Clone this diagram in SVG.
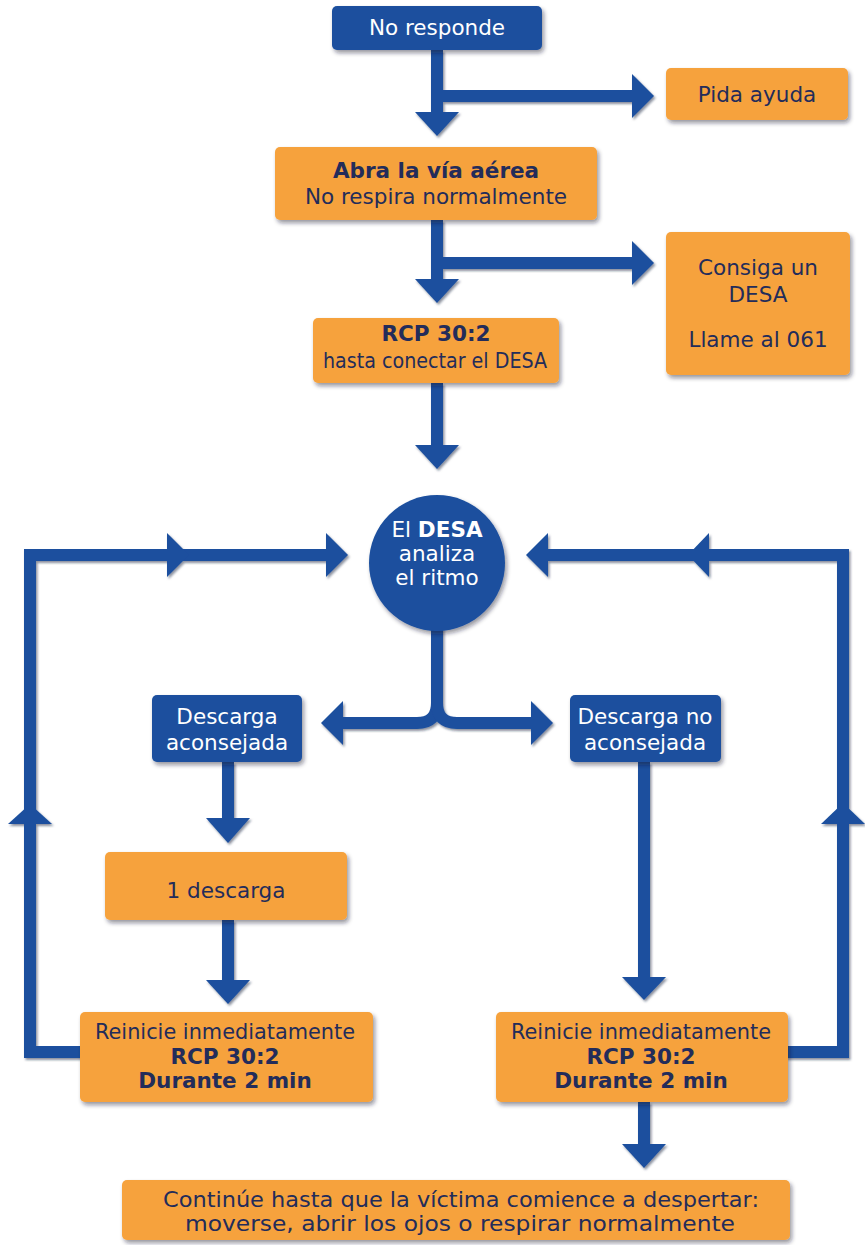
<svg xmlns="http://www.w3.org/2000/svg" width="865" height="1245" viewBox="0 0 865 1245">
  <defs>
    <filter id="shadow" x="-10%" y="-10%" width="130%" height="140%">
      <feDropShadow dx="2" dy="3" stdDeviation="2" flood-color="#1c1c2a" flood-opacity="0.45"/>
    </filter>
    <filter id="lineShadow" x="-5%" y="-5%" width="110%" height="110%">
      <feDropShadow dx="1.5" dy="2" stdDeviation="1" flood-color="#0d1c3a" flood-opacity="0.5"/>
    </filter>
  </defs>
  <style>
    .box-o { fill: #F6A23C; filter: url(#shadow); }
    .box-b { fill: #1B4F9E; filter: url(#shadow); }
    .t { font-family: "DejaVu Sans", "Noto Sans", sans-serif; font-size: 21.5px; text-anchor: middle; fill: #232C5A; }
    .tw { fill: #FFFFFF; }
    .b { font-weight: bold; }
    .ln { fill: none; stroke: #1B4F9E; stroke-width: 12; stroke-linejoin: miter; }
    .ah { fill: #1B4F9E; }
  </style>

  <rect width="865" height="1245" fill="#FFFFFF"/>

  <!-- connectors -->
  <g id="connectors" filter="url(#lineShadow)">
    <!-- No responde -> Abra la vía aérea, branch to Pida ayuda -->
    <path class="ln" d="M437 50 V114"/>
    <polygon class="ah" points="415,112 459,112 437,136"/>
    <path class="ln" d="M437 96 H634"/>
    <polygon class="ah" points="632,74 632,118 654,96"/>

    <!-- Abra -> RCP, branch to Consiga un DESA -->
    <path class="ln" d="M437 220 V281"/>
    <polygon class="ah" points="415,279 459,279 437,303"/>
    <path class="ln" d="M437 263 H634"/>
    <polygon class="ah" points="632,241 632,285 654,263"/>

    <!-- RCP -> DESA analiza -->
    <path class="ln" d="M437 383 V447"/>
    <polygon class="ah" points="415,445 459,445 437,469"/>

    <!-- fork below the analysis -->
    <path class="ln" d="M437 628 V703 Q437 723 417 723 H341"/>
    <path class="ln" d="M437 703 Q437 723 457 723 H533"/>
    <polygon class="ah" points="343,701 343,745 321,723"/>
    <polygon class="ah" points="531,701 531,745 553,723"/>

    <!-- shock branch -->
    <path class="ln" d="M228 762 V820"/>
    <polygon class="ah" points="206,818 250,818 228,843"/>
    <path class="ln" d="M228 920 V982"/>
    <polygon class="ah" points="206,980 250,980 228,1004"/>

    <!-- no-shock branch -->
    <path class="ln" d="M644 762 V979"/>
    <polygon class="ah" points="622,977 666,977 644,1000"/>
    <path class="ln" d="M644 1102 V1146"/>
    <polygon class="ah" points="622,1144 666,1144 644,1168"/>

    <!-- left return loop -->
    <path class="ln" d="M82 1052 H30 V555 H328"/>
    <polygon class="ah" points="326,533 326,577 348,555"/>
    <polygon class="ah" points="167,533 167,577 189,555"/>
    <polygon class="ah" points="8,824 52,824 30,804"/>

    <!-- right return loop -->
    <path class="ln" d="M786 1052 H843 V555 H546"/>
    <polygon class="ah" points="548,533 548,577 526,555"/>
    <polygon class="ah" points="709,533 709,577 688,555"/>
    <polygon class="ah" points="821,824 865,824 843,803"/>
  </g>

  <!-- nodes -->
  <g id="no-responde">
    <rect class="box-b" x="332" y="6" width="210" height="44" rx="5"/>
    <text class="t tw" x="437" y="35">No responde</text>
  </g>

  <g id="pida-ayuda">
    <rect class="box-o" x="666" y="68" width="182" height="52" rx="5"/>
    <text class="t" x="757" y="102">Pida ayuda</text>
  </g>

  <g id="abra-via">
    <rect class="box-o" x="275" y="147" width="322" height="73" rx="5"/>
    <text class="t b" x="436" y="178">Abra la vía aérea</text>
    <text class="t" x="436" y="204">No respira normalmente</text>
  </g>

  <g id="consiga-desa">
    <rect class="box-o" x="666" y="232" width="184" height="143" rx="5"/>
    <text class="t" x="758" y="275">Consiga un</text>
    <text class="t" x="758" y="302">DESA</text>
    <text class="t" x="758" y="347">Llame al 061</text>
  </g>

  <g id="rcp-inicial">
    <rect class="box-o" x="313" y="318" width="246" height="65" rx="5"/>
    <text class="t b" x="436" y="341">RCP 30:2</text>
    <text class="t" x="435" y="368" textLength="224" lengthAdjust="spacingAndGlyphs">hasta conectar el DESA</text>
  </g>

  <g id="desa-analiza">
    <circle cx="437" cy="563" r="68" fill="#1B4F9E" filter="url(#shadow)"/>
    <text class="t tw" x="437" y="537">El <tspan class="b">DESA</tspan></text>
    <text class="t tw" x="437" y="561">analiza</text>
    <text class="t tw" x="437" y="585">el ritmo</text>
  </g>

  <g id="descarga-aconsejada">
    <rect class="box-b" x="152" y="695" width="150" height="67" rx="5"/>
    <text class="t tw" x="227" y="724">Descarga</text>
    <text class="t tw" x="227" y="750">aconsejada</text>
  </g>

  <g id="descarga-no-aconsejada">
    <rect class="box-b" x="570" y="695" width="151" height="67" rx="5"/>
    <text class="t tw" x="645" y="724">Descarga no</text>
    <text class="t tw" x="645" y="750">aconsejada</text>
  </g>

  <g id="una-descarga">
    <rect class="box-o" x="105" y="852" width="242" height="68" rx="5"/>
    <text class="t" x="226" y="898">1 descarga</text>
  </g>

  <g id="reinicie-izq">
    <rect class="box-o" x="80" y="1012" width="293" height="90" rx="5"/>
    <text class="t" x="225" y="1039" textLength="260" lengthAdjust="spacingAndGlyphs">Reinicie inmediatamente</text>
    <text class="t b" x="225" y="1064">RCP 30:2</text>
    <text class="t b" x="225" y="1088">Durante 2 min</text>
  </g>

  <g id="reinicie-der">
    <rect class="box-o" x="496" y="1012" width="292" height="90" rx="5"/>
    <text class="t" x="641" y="1039" textLength="260" lengthAdjust="spacingAndGlyphs">Reinicie inmediatamente</text>
    <text class="t b" x="641" y="1064">RCP 30:2</text>
    <text class="t b" x="641" y="1088">Durante 2 min</text>
  </g>

  <g id="continue">
    <rect class="box-o" x="122" y="1180" width="668" height="60" rx="5"/>
    <text class="t" x="461" y="1207" textLength="596" lengthAdjust="spacingAndGlyphs">Continúe hasta que la víctima comience a despertar:</text>
    <text class="t" x="460" y="1231" textLength="550" lengthAdjust="spacingAndGlyphs">moverse, abrir los ojos o respirar normalmente</text>
  </g>
</svg>
